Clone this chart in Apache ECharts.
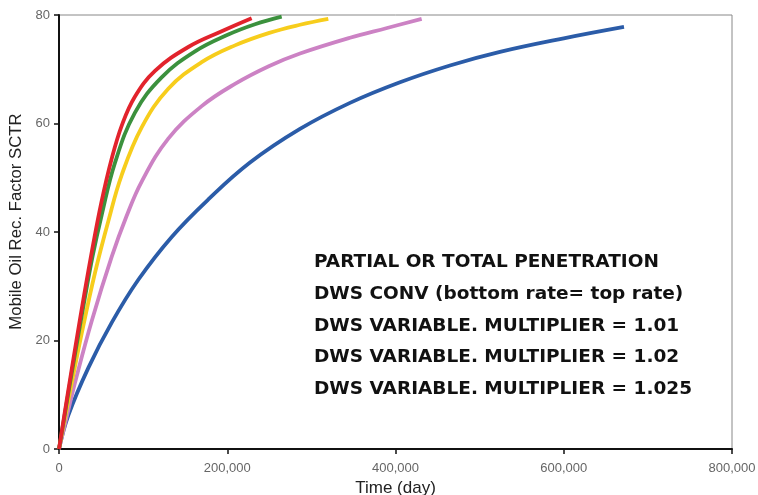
<!DOCTYPE html>
<html>
<head>
<meta charset="utf-8">
<script src="https://cdn.jsdelivr.net/npm/echarts@6/dist/echarts.min.js"></script>
<style>
  html, body { margin: 0; padding: 0; background: #fff; }
  #main { width: 758px; height: 495px; }
</style>
</head>
<body>
<div id="main"></div>
<script>
var redX = [0, 10000, 20000, 30000, 40000, 50000, 62600, 75000, 90000, 114100, 153700, 193400, 229000];
var redY = [0, 9.8, 19.3, 28.5, 37.2, 45.2, 53.5, 59.8, 64.9, 69.7, 74.1, 77.0, 79.4];

var greenX = [0, 10000, 20000, 30000, 40000, 50700, 66600, 90300, 122000, 161700, 201200, 233000, 264700];
var greenY = [0, 9.3, 18.4, 27.2, 35.6, 43.1, 52.8, 62.0, 68.5, 73.3, 76.4, 78.3, 79.7];

var yellowX = [0, 11100, 27000, 42800, 58600, 74500, 98300, 129900, 169600, 209200, 250000, 286500, 320100];
var yellowY = [0, 9.0, 21.3, 32.5, 42.0, 50.5, 59.3, 66.4, 71.3, 74.4, 76.7, 78.2, 79.3];

var pinkX = [0, 10000, 19000, 38900, 62600, 80000, 98300, 129900, 169600, 209200, 250000, 286500, 345900, 390000, 431100];
var pinkY = [0, 6.5, 12.2, 23.6, 35.4, 42.8, 49.3, 57.2, 63.2, 67.3, 70.6, 72.9, 75.8, 77.6, 79.3];

var blueX = [0, 11060, 35000, 62650, 94260, 133970, 177470, 227040, 286470, 345900, 405340, 464770, 524200, 600000, 671600];
var blueY = [0, 6.2, 15.0, 23.3, 31.2, 39.1, 46.0, 52.8, 59.0, 63.8, 67.6, 70.7, 73.2, 75.7, 77.8];

var legendLines = [
    'PARTIAL OR TOTAL PENETRATION',
    'DWS CONV (bottom rate= top rate)',
    'DWS VARIABLE. MULTIPLIER = 1.01',
    'DWS VARIABLE. MULTIPLIER = 1.02',
    'DWS VARIABLE. MULTIPLIER = 1.025'
];

function zip(xs, ys) {
    return xs.map(function (x, i) { return [x, ys[i]]; });
}

function curve(name, xs, ys, color) {
    return {
        name: name,
        type: 'line',
        smooth: 0.4,
        showSymbol: false,
        lineStyle: { color: color, width: 3.8 },
        data: zip(xs, ys)
    };
}

var myChart = echarts.init(document.getElementById('main'));

var option = {
    backgroundColor: '#fff',
    animation: false,
    grid: {
        left: 59, top: 15, right: 26, bottom: 46,
        containLabel: false,
        outerBoundsMode: 'none',
        show: true, borderColor: '#888', borderWidth: 1
    },
    xAxis: {
        type: 'value',
        min: 0, max: 800000, interval: 200000,
        name: 'Time (day)',
        nameLocation: 'middle',
        nameGap: 25,
        nameTextStyle: { fontFamily: 'Liberation Sans', fontSize: 17, color: '#222' },
        axisLine: { lineStyle: { color: '#111', width: 2 } },
        axisTick: { show: true, length: 5, lineStyle: { color: '#111', width: 1.5 } },
        axisLabel: {
            margin: 13,
            fontFamily: 'Liberation Sans', fontSize: 13, color: '#666',
            formatter: function (v) { return v.toLocaleString('en-US'); }
        },
        splitLine: { show: false }
    },
    yAxis: {
        type: 'value',
        min: 0, max: 80, interval: 20,
        name: 'Mobile Oil Rec. Factor SCTR',
        nameLocation: 'middle',
        nameGap: 33,
        nameTextStyle: {
            fontFamily: 'Liberation Sans', fontSize: 16.8, color: '#222',
            padding: [0, 0, 0, 21]
        },
        axisLine: { show: true, lineStyle: { color: '#111', width: 2 } },
        axisTick: { show: true, length: 5, lineStyle: { color: '#111', width: 1.5 } },
        axisLabel: {
            margin: 9,
            fontFamily: 'Liberation Sans', fontSize: 13, color: '#666'
        },
        splitLine: { show: false }
    },
    graphic: legendLines.map(function (t, i) {
        return {
            type: 'text',
            x: 314,
            y: 262.5 + i * 31.6,
            style: {
                text: t,
                font: 'bold 18.5px "DejaVu Sans"',
                fill: '#111',
                verticalAlign: 'middle'
            }
        };
    }),
    series: [
        curve('blue', blueX, blueY, '#2b5ca8'),
        curve('pink', pinkX, pinkY, '#cc82c4'),
        curve('yellow', yellowX, yellowY, '#f7cd1c'),
        curve('green', greenX, greenY, '#3b913d'),
        curve('red', redX, redY, '#e2232c')
    ]
};

myChart.setOption(option);
</script>
</body>
</html>
